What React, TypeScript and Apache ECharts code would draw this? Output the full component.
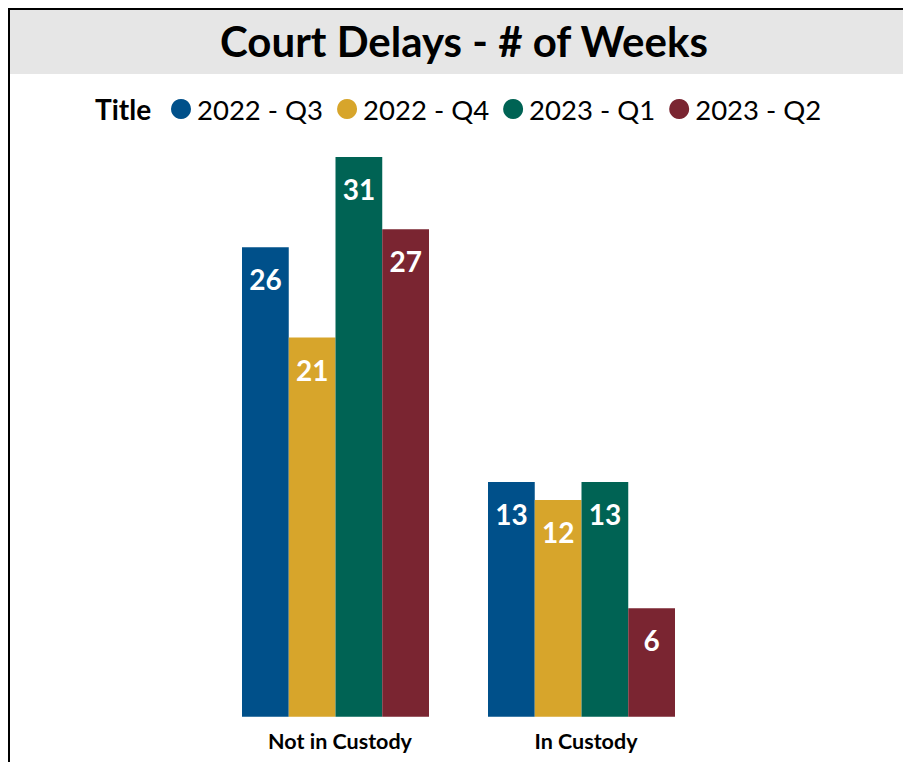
import React, { useEffect, useRef } from "react";
import * as echarts from "echarts";

const categories = ["Not in Custody", "In Custody"];
const seriesNames = ["2022 - Q3", "2022 - Q4", "2023 - Q1", "2023 - Q2"];
const q3_2022 = [26, 13];
const q4_2022 = [21, 12];
const q1_2023 = [31, 13];
const q2_2023 = [27, 6];
const colors = ["#00508A", "#D7A52B", "#006354", "#7A2531"];

const FONT = "Lato, 'Open Sans', sans-serif";

export default function App() {
  const ref = useRef<HTMLDivElement>(null);
  useEffect(() => {
    if (!ref.current) return;
    const chart = echarts.init(ref.current, undefined, { renderer: "svg" });
    const values = [q3_2022, q4_2022, q1_2023, q2_2023];
    chart.setOption({
      animation: false,
      textStyle: { fontFamily: FONT },
      graphic: [
        {
          type: "rect",
          left: 0,
          top: 0,
          z: -1,
          shape: { width: 893, height: 64 },
          style: { fill: "#E6E6E6" },
        },
        {
          type: "text",
          left: 210,
          top: 10,
          style: {
            text: "Court Delays - # of Weeks",
            font: `bold 42px ${FONT}`,
            fill: "#000",
          },
        },
        {
          type: "text",
          left: 85,
          top: 85,
          style: {
            text: "Title",
            font: `bold 28px ${FONT}`,
            fill: "#000",
          },
        },
      ],
      legend: {
        data: seriesNames,
        left: 161,
        top: 85,
        padding: 0,
        icon: "circle",
        itemWidth: 20,
        itemHeight: 20,
        itemGap: 14,
        textStyle: { fontSize: 27.5, fontFamily: FONT, color: "#000", padding: [0, 0, 0, 1] },
      },
      grid: { left: 202.5, right: 198.5, top: 74.7, bottom: 45.3 },
      xAxis: {
        type: "category",
        data: categories,
        axisLine: { show: false },
        axisTick: { show: false },
        axisLabel: {
          fontSize: 21.5,
          fontWeight: "bold",
          fontFamily: FONT,
          color: "#000",
          margin: 13,
          padding: [0, 0, 0, 9],
        },
      },
      yAxis: {
        type: "value",
        min: 0,
        max: 35,
        show: false,
        splitLine: { show: false },
      },
      series: seriesNames.map((name, i) => ({
        name,
        type: "bar",
        data: values[i],
        barWidth: 46.75,
        barGap: "0%",
        itemStyle: { color: colors[i] },
        label: {
          show: true,
          position: "insideTop",
          distance: 18,
          color: "#fff",
          fontSize: 28,
          fontWeight: "bold",
          fontFamily: FONT,
        },
      })),
    });
    return () => chart.dispose();
  }, []);
  return (
    <div
      style={{
        position: "absolute",
        left: 8,
        top: 8,
        borderLeft: "2px solid #000",
        borderTop: "2px solid #000",
        width: 893,
        height: 752,
        background: "#fff",
      }}
    >
      <div ref={ref} style={{ width: 893, height: 752 }} />
    </div>
  );
}
